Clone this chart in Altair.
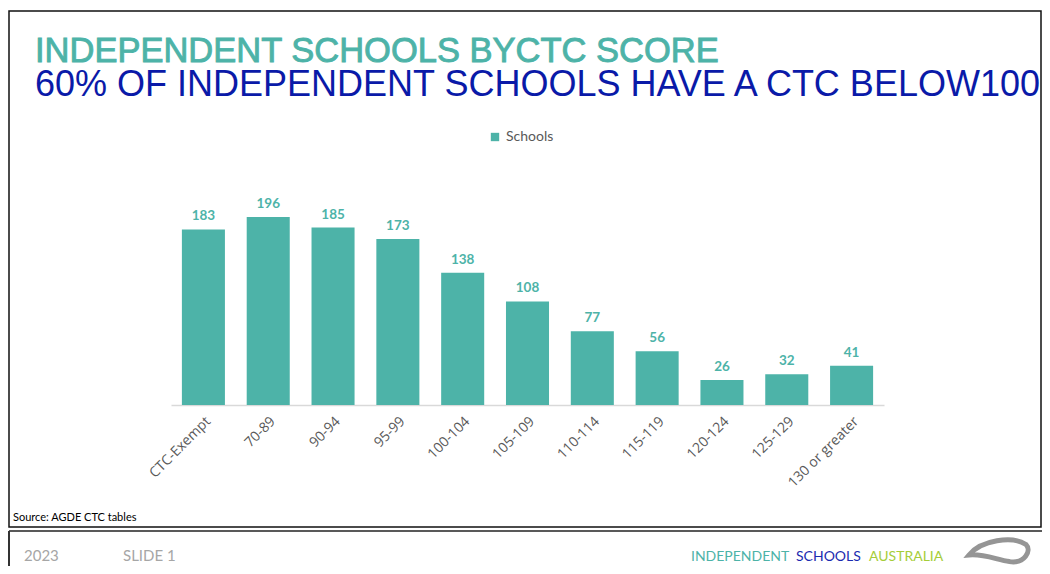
import altair as alt
import pandas as pd

categories = ["CTC-Exempt", "70-89", "90-94", "95-99", "100-104", "105-109",
              "110-114", "115-119", "120-124", "125-129", "130 or greater"]
schools = [183, 196, 185, 173, 138, 108, 77, 56, 26, 32, 41]
series_name = "Schools"

title_1 = "INDEPENDENT SCHOOLS BYCTC SCORE"
title_2 = "60% OF INDEPENDENT SCHOOLS HAVE A CTC BELOW100"
source_text = "Source: AGDE CTC tables"
footer_year = "2023"
footer_slide = "SLIDE 1"
footer_brand = ["INDEPENDENT", "SCHOOLS", "AUSTRALIA"]

TEAL = "#4DB3A8"
BLUE = "#0A1AA8"
FONT = "Lato"
FONT2 = "Open Sans"
TFONT = "Liberation Sans"

df = pd.DataFrame({"category": categories, "value": schools, "series": series_name})

W, H = 713, 188
one = alt.Data(values=[{"a": 1}])

xenc = alt.X("category:N", sort=categories, title=None,
             scale=alt.Scale(paddingInner=0.336, paddingOuter=0.168),
             axis=alt.Axis(labelAngle=-45, labelAlign="right", labelBaseline="top",
                           labelPadding=9, ticks=False, domainColor="#D9D9D9",
                           domainWidth=1.5, labelFont=FONT2, labelFontSize=14,
                           labelColor="#595959"))
yenc = alt.Y("value:Q", scale=alt.Scale(domain=[0, 196], nice=False), axis=None)

bars = alt.Chart(df).mark_bar().encode(
    x=xenc, y=yenc,
    color=alt.Color("series:N", scale=alt.Scale(range=[TEAL]),
                    legend=alt.Legend(orient="none", legendX=317, legendY=-87,
                                      direction="horizontal", title=None,
                                      symbolType="square", symbolSize=70,
                                      labelFont=FONT, labelFontSize=14,
                                      labelColor="#595959", symbolStrokeWidth=0)),
)
labels = alt.Chart(df).mark_text(dy=-9, baseline="alphabetic", font=FONT,
                                 fontSize=13.5, fontWeight="bold", color=TEAL).encode(
    x=alt.X("category:N", sort=categories), y=yenc, text="value:Q")


def txt(s, x, y, size, color, weight="normal", align="left", font=FONT, stroke_w=0):
    kw = {}
    if stroke_w:
        kw = {"stroke": color, "strokeWidth": stroke_w}
    return alt.Chart(one).mark_text(text=s, align=align, baseline="alphabetic",
                                    font=font, fontSize=size, color=color,
                                    fontWeight=weight, **kw).encode(
        x=alt.value(x), y=alt.value(y))


frame = alt.Chart(one).mark_rect(fillOpacity=0, stroke="#111111", strokeWidth=1.5).encode(
    x=alt.value(-162), x2=alt.value(870), y=alt.value(-206), y2=alt.value(310))
foot_top = alt.Chart(one).mark_rule(stroke="#222222", strokeWidth=1.5).encode(
    x=alt.value(-162), x2=alt.value(875), y=alt.value(314))
foot_left = alt.Chart(one).mark_rule(stroke="#333333", strokeWidth=2).encode(
    x=alt.value(-162), y=alt.value(314), y2=alt.value(360))

logo_path = ("M -1 0.1 C -0.6 -0.4, 0.45 -0.55, 0.9 -0.25 C 1.1 -0.05, 0.85 0.4, 0.35 0.32 "
             "C -0.05 0.27, -0.5 0.05, -1 0.1 Z")
logo = alt.Chart(one).mark_point(shape=logo_path, size=3600, filled=False,
                                 stroke="#8A8A8A", strokeWidth=5, opacity=0.9).encode(
    x=alt.value(828), y=alt.value(335))

layers = [
    frame, foot_top, foot_left, bars, labels,
    txt(title_1, -136, -155, 34.5, TEAL, font=TFONT, stroke_w=0.9),
    txt(title_2, -136, -121, 36, BLUE, font=TFONT),
    txt(source_text, -158, 304, 11, "#000000"),
    txt(footer_year, -147, 344, 15, "#A6A6A6"),
    txt(footer_slide, -48, 344, 15, "#A6A6A6"),
    txt(footer_brand[0], 520, 344, 14, TEAL),
    txt(footer_brand[1], 625, 344, 14, "#1B2BB0"),
    txt(footer_brand[2], 698, 344, 14, "#A5CD39"),
    logo,
]

chart = alt.layer(*layers).properties(
    width=W, height=H,
    background="white",
    autosize=alt.AutoSizeParams(type="none"),
    padding={"left": 163, "top": 209, "right": 158, "bottom": 161},
).configure_view(stroke=None)

chart.save("out.html", embed_options={"renderer": "svg", "actions": False})
